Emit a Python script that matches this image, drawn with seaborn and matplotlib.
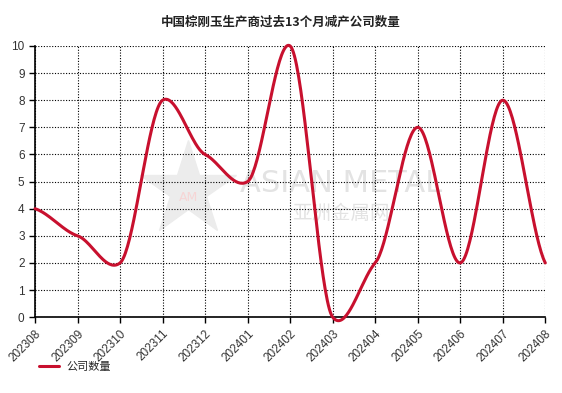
import numpy as np
import pandas as pd
import matplotlib
matplotlib.use("Agg")
import matplotlib.pyplot as plt
import seaborn as sns

# data
months = ["202308", "202309", "202310", "202311", "202312", "202401", "202402",
          "202403", "202404", "202405", "202406", "202407", "202408"]
counts = [4, 3, 2, 8, 6, 5, 10, 0, 2, 7, 2, 8, 2]
series_name = "公司数量"
title = "中国棕刚玉生产商过去13个月减产公司数量"

sns.set_style("white")
plt.rcParams['font.family'] = ['Noto Sans CJK SC', 'DejaVu Sans']

# cardinal spline through the points, for drawing the smooth line only
def cardinal(y, c=0.5, n=40):
    y = np.asarray(y, dtype=float)
    m = np.zeros_like(y)
    m[1:-1] = c * (y[2:] - y[:-2]) / 2
    m[0] = c * (y[1] - y[0])
    m[-1] = c * (y[-1] - y[-2])
    xs, ys = [], []
    t = np.linspace(0, 1, n, endpoint=False)
    h00 = 2 * t**3 - 3 * t**2 + 1
    h10 = t**3 - 2 * t**2 + t
    h01 = -2 * t**3 + 3 * t**2
    h11 = t**3 - t**2
    for i in range(len(y) - 1):
        xs.append(i + t)
        ys.append(h00 * y[i] + h10 * m[i] + h01 * y[i + 1] + h11 * m[i + 1])
    xs.append([len(y) - 1])
    ys.append([y[-1]])
    return np.concatenate(xs), np.concatenate(ys)

sx, sy = cardinal(counts)
df = pd.DataFrame({"x": sx, "y": sy})

fig = plt.figure(figsize=(5.62, 3.93), dpi=100)
ax = fig.add_axes([0.0623, 0.193, 0.908, 0.690])

# watermark
ax.plot([0.30], [0.47], marker="*", markersize=72, color="#ececec",
        transform=ax.transAxes, zorder=0, clip_on=False)
ax.text(0.30, 0.44, "AM", transform=ax.transAxes, fontsize=9, color="#f6d5d5",
        ha="center", va="center", family="DejaVu Sans", zorder=0)
ax.text(0.60, 0.494, "ASIAN METAL", transform=ax.transAxes, fontsize=22,
        color="#e3e3e3", ha="center", va="center", family="DejaVu Sans", zorder=0)
ax.text(0.60, 0.384, "亚洲金属网", transform=ax.transAxes, fontsize=14,
        color="#e3e3e3", ha="center", va="center", zorder=0)

sns.lineplot(data=df, x="x", y="y", ax=ax, color="#c8102e", linewidth=2.2,
             label=series_name, sort=False, zorder=3)
for ln in ax.lines:
    ln.set_clip_on(False)

ax.set_xlim(0, len(months) - 1)
ax.set_ylim(0, 10)
ax.set_xticks(range(len(months)))
ax.set_xticklabels(months, rotation=45, ha="right", rotation_mode="anchor",
                   fontsize=8.5, color="#333333", family="Liberation Sans")
ax.set_yticks(range(0, 11))
for lab in ax.get_yticklabels():
    lab.set_family("Liberation Sans")
ax.tick_params(axis="y", labelsize=8.5, labelcolor="#333333")
ax.tick_params(axis="both", direction="out", length=4, width=1, color="black",
               bottom=True, left=True)
ax.set_xlabel("")
ax.set_ylabel("")
ax.grid(True, linestyle=(0, (1, 1.5)), color="black", linewidth=0.8)

for side in ["left", "bottom"]:
    ax.spines[side].set_color("black")
    ax.spines[side].set_linewidth(1.2)
for side in ["top", "right"]:
    ax.spines[side].set_visible(False)

fig.text(0.5, 0.944, title, ha="center", va="center", fontsize=9, fontweight="bold",
         color="#222222")

ax.legend(loc="center left", bbox_to_anchor=(0.0, -0.185), frameon=False, fontsize=8,
          handlelength=1.8, handletextpad=0.6, borderaxespad=0)

fig.savefig("out.png", dpi=100)
